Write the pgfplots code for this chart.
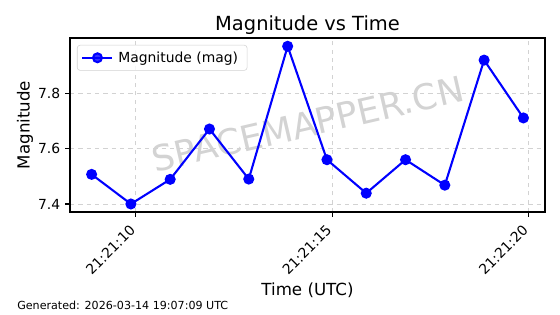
\documentclass[border=0pt]{standalone}
\usepackage{pgfplots}
\pgfplotsset{compat=1.18}
\usepackage{fontspec}
\setmainfont{DejaVu Sans}
\begin{document}
\begin{tikzpicture}[x=0.72pt,y=0.72pt]
\path[use as bounding box] (0,0) rectangle (560,314);
\node[text=gray, opacity=0.35, rotate=13, font=\fontsize{25.5}{26}\selectfont] at (308,190) {SPACEMAPPER.CN};
\begin{axis}[
  at={(70*0.72pt,102*0.72pt)}, anchor=south west,
  scale only axis, width=342pt, height=125.3pt,
  xmin=8.33, xmax=20.42, ymin=7.371, ymax=8.0,
  xtick={10,15,20}, xticklabels={21:21:10,21:21:15,21:21:20},
  ytick={7.4,7.6,7.8},
  yticklabel style={/pgf/number format/fixed,/pgf/number format/precision=1},
  /pgf/number format/assume math mode=true,
  xticklabel style={rotate=45, anchor=north east, font=\fontsize{10}{12}\selectfont, inner sep=1pt, xshift=-6pt, yshift=1pt},
  yticklabel style={font=\fontsize{10}{12}\selectfont},
  tick align=outside, major tick length=3.5pt, tick style={black, line width=0.8pt},
  xtick pos=bottom, ytick pos=left,
  axis line style={line width=0.8pt},
  grid=major, grid style={dashed, gray!35, line width=0.6pt},
  legend style={draw=gray!35, rounded corners=2pt, fill=white, fill opacity=0.8, text opacity=1, font=\fontsize{10}{12}\selectfont, inner xsep=3pt, inner ysep=2.5pt, at={(0.0147,0.96)}, anchor=north west,
    nodes={inner xsep=3.5pt}},
  legend image code/.code={\draw[mark repeat=2,mark phase=2,#1] plot coordinates {(0pt,0pt) (10.8pt,0pt) (21.6pt,0pt)};},
  legend cell align=left,
]
\addplot[color={rgb,255:red,0;green,0;blue,255}, line width=1.5pt, mark=*, mark size=3.2pt] coordinates {
(8.88,7.507) (9.88,7.400) (10.88,7.489) (11.88,7.671) (12.88,7.490) (13.87,7.970)
(14.87,7.560) (15.87,7.439) (16.87,7.560) (17.87,7.468) (18.87,7.920) (19.87,7.711)
};
\addlegendentry{Magnitude (mag)}
\end{axis}
\node[font=\fontsize{14}{16}\selectfont] at (307.5,289) {Magnitude vs Time};
\node[font=\fontsize{12}{14}\selectfont, rotate=90] at (25,189) {Magnitude};
\node[font=\fontsize{12}{14}\selectfont] at (307.5,24) {Time (UTC)};
\node[font=\fontsize{8}{10}\selectfont, anchor=west, inner sep=0pt] at (17,9) {Generated: 2026-03-14 19:07:09 UTC};
\end{tikzpicture}
\end{document}
